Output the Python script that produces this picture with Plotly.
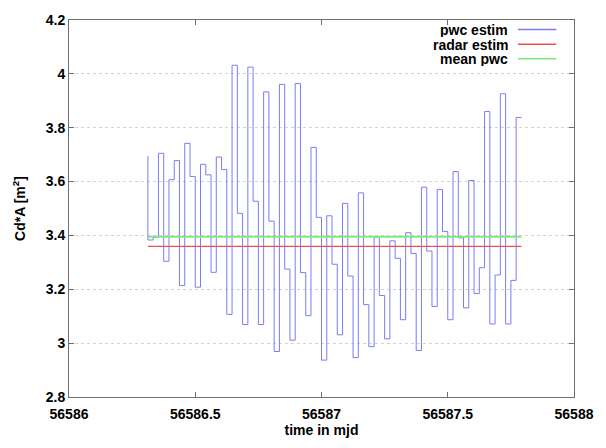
import plotly.graph_objects as go

# time stamps (mjd) of the piecewise-constant estimates
time_mjd = [
    56586.3125, 56586.3333, 56586.3542, 56586.3750, 56586.3958, 56586.4167,
    56586.4375, 56586.4583, 56586.4792, 56586.5000, 56586.5208, 56586.5417,
    56586.5625, 56586.5833, 56586.6042, 56586.6250, 56586.6458, 56586.6667,
    56586.6875, 56586.7083, 56586.7292, 56586.7500, 56586.7708, 56586.7917,
    56586.8125, 56586.8333, 56586.8542, 56586.8750, 56586.8958, 56586.9167,
    56586.9375, 56586.9583, 56586.9792, 56587.0000, 56587.0208, 56587.0417,
    56587.0625, 56587.0833, 56587.1042, 56587.1250, 56587.1458, 56587.1667,
    56587.1875, 56587.2083, 56587.2292, 56587.2500, 56587.2708, 56587.2917,
    56587.3125, 56587.3333, 56587.3542, 56587.3750, 56587.3958, 56587.4167,
    56587.4375, 56587.4583, 56587.4792, 56587.5000, 56587.5208, 56587.5417,
    56587.5625, 56587.5833, 56587.6042, 56587.6250, 56587.6458, 56587.6667,
    56587.6875, 56587.7083, 56587.7292, 56587.7500, 56587.7708, 56587.7917,
]
pwc_estim = [
    3.695, 3.383, 3.393, 3.705, 3.304, 3.607, 3.678, 3.214, 3.742, 3.619,
    3.208, 3.664, 3.625, 3.263, 3.691, 3.645, 3.107, 4.032, 3.482, 3.069,
    4.025, 3.527, 3.069, 3.933, 3.453, 2.969, 3.961, 3.275, 3.011, 3.964,
    3.262, 3.102, 3.727, 3.467, 2.937, 3.473, 3.293, 3.031, 3.519, 3.249,
    2.946, 3.558, 3.143, 2.987, 3.393, 3.177, 3.016, 3.380, 3.315, 3.087,
    3.410, 3.333, 2.973, 3.579, 3.342, 3.136, 3.571, 3.415, 3.087, 3.637,
    3.391, 3.131, 3.604, 3.184, 3.280, 3.860, 3.071, 3.253, 3.926, 3.071,
    3.233, 3.838,
]
radar_estim = 3.359
mean_pwc = 3.395

series_names = ["pwc estim", "radar estim", "mean pwc"]
series_colors = ["#7c7cf2", "#ee5050", "#80ea80"]

x_ticks = [56586, 56586.5, 56587, 56587.5, 56588]
x_tick_labels = ["56586", "56586.5", "56587", "56587.5", "56588"]
y_ticks = [2.8, 3.0, 3.2, 3.4, 3.6, 3.8, 4.0, 4.2]
y_tick_labels = ["2.8", "3", "3.2", "3.4", "3.6", "3.8", "4", "4.2"]

fig = go.Figure()
fig.add_trace(go.Scatter(x=time_mjd, y=pwc_estim, mode="lines", line_shape="vh",
                         line=dict(color=series_colors[0], width=1), name=series_names[0]))
fig.add_trace(go.Scatter(x=[time_mjd[0], time_mjd[-1]], y=[radar_estim, radar_estim], mode="lines",
                         line=dict(color=series_colors[1], width=1.3), name=series_names[1]))
fig.add_trace(go.Scatter(x=[time_mjd[0], time_mjd[-1]], y=[mean_pwc, mean_pwc], mode="lines",
                         line=dict(color=series_colors[2], width=1.8), name=series_names[2]))

font_main = dict(family="Liberation Sans, Arial, sans-serif", size=14, color="#000000")

# manual gnuplot-style legend (text right, sample line after)
annotations = []
shapes = []
legend_y = [0.975, 0.936, 0.897]
for name, col, yy in zip(series_names, series_colors, legend_y):
    annotations.append(dict(x=0.874, y=yy, xref="paper", yref="paper", text="<b>%s</b>" % name,
                            showarrow=False, xanchor="right", yanchor="middle", height=15,
                            font=font_main))
    shapes.append(dict(type="line", xref="paper", yref="paper", x0=0.889, x1=0.965, y0=yy, y1=yy,
                       line=dict(color=col, width=1.5)))

fig.update_layout(
    width=606, height=448,
    margin=dict(l=69, r=20, t=13, b=46),
    plot_bgcolor="white", paper_bgcolor="white",
    showlegend=False,
    font=font_main,
    annotations=annotations,
    shapes=shapes,
)
fig.update_xaxes(
    range=[56586, 56588], tickvals=x_ticks, ticktext=["<b>%s</b>" % t for t in x_tick_labels],
    showgrid=False, zeroline=False,
    showline=True, linecolor="#6e6e6e", linewidth=1, mirror="ticks",
    ticks="inside", ticklen=5, tickcolor="#6e6e6e", ticklabelstandoff=4,
    title=dict(text="<b>time in mjd</b>", font=font_main, standoff=4),
)
fig.update_yaxes(
    range=[2.8, 4.2], tickvals=y_ticks, ticktext=["<b>%s</b>" % t for t in y_tick_labels],
    showgrid=True, gridcolor="#d2d2d2", griddash="dot", gridwidth=1, zeroline=False,
    showline=True, linecolor="#6e6e6e", linewidth=1, mirror="ticks",
    ticks="inside", ticklen=5, tickcolor="#6e6e6e",
    title=dict(text="<b>Cd*A [m<sup>2</sup>]</b>", font=font_main, standoff=16),
)

fig.write_html("out.html")
